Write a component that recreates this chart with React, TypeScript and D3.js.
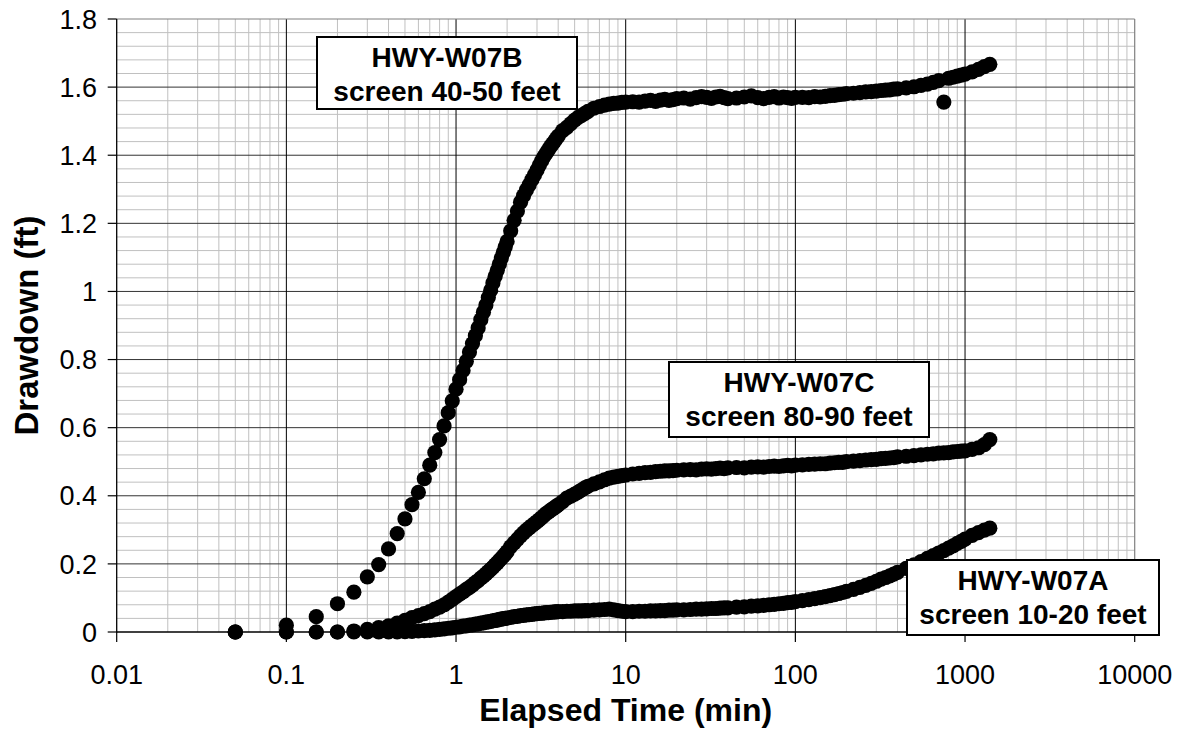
import React from "react";
import * as d3 from "d3";

// Elapsed time (min), shared by all three wells
const TIME_MIN = [
  0.05, 0.1, 0.15, 0.2, 0.25, 0.3, 0.35, 0.4, 0.45, 0.5, 0.55, 0.6, 0.65, 0.7, 0.75, 0.8, 0.85, 0.9, 0.95, 1.0,
  1.05, 1.1, 1.15, 1.2, 1.25, 1.3, 1.35, 1.4, 1.45, 1.5, 1.55, 1.6, 1.65, 1.7, 1.75, 1.8, 1.85, 1.9, 1.95, 2.0,
  2.1, 2.2, 2.3, 2.4, 2.5, 2.6, 2.7, 2.8, 2.9, 3.0, 3.1, 3.2, 3.3, 3.4, 3.5, 3.6, 3.7, 3.8, 3.9, 4.0,
  4.25, 4.5, 4.75, 5, 5.25, 5.5, 5.75, 6,
  6.5, 7, 7.5, 8, 8.5, 9, 9.5, 10,
  11, 12, 13, 14, 15, 16, 17, 18, 19, 20,
  22, 24, 26, 28, 30, 32, 34, 36, 38, 40,
  45, 50, 55, 60, 65, 70, 75, 80, 85, 90, 95, 100,
  110, 120, 130, 140, 150, 160, 170, 180, 190, 200,
  220, 240, 260, 280, 300, 320, 340, 360, 380, 400,
  450, 500, 550, 600, 650, 700, 750, 800, 850, 900, 950, 1000,
  1100, 1200, 1300, 1400,
];

// HWY-W07B, screen 40-50 feet
const DRAWDOWN_B = [
  0, 0.02, 0.045, 0.083, 0.117, 0.162, 0.198, 0.244, 0.289, 0.332, 0.374, 0.41, 0.45, 0.49, 0.527, 0.565, 0.605, 0.644, 0.679, 0.713,
  0.741, 0.768, 0.795, 0.822, 0.847, 0.87, 0.893, 0.917, 0.939, 0.96, 0.982, 1.003, 1.025, 1.044, 1.062, 1.08, 1.098, 1.115, 1.131, 1.147,
  1.178, 1.209, 1.236, 1.262, 1.281, 1.298, 1.313, 1.328, 1.342, 1.356, 1.371, 1.384, 1.396, 1.406, 1.416, 1.425, 1.433, 1.441, 1.449, 1.456,
  1.472, 1.482, 1.493, 1.503, 1.511, 1.517, 1.523, 1.529,
  1.538, 1.543, 1.547, 1.55, 1.552, 1.553, 1.555, 1.556,
  1.557, 1.556, 1.559, 1.561, 1.558, 1.562, 1.564, 1.561, 1.563, 1.566,
  1.568, 1.565, 1.569, 1.572, 1.57, 1.567, 1.571, 1.573, 1.569, 1.566,
  1.568, 1.571, 1.574, 1.569, 1.566, 1.57, 1.572, 1.568, 1.571, 1.569, 1.567, 1.57,
  1.57, 1.569, 1.572, 1.571, 1.573, 1.575, 1.576, 1.578, 1.579, 1.581,
  1.582, 1.584, 1.586, 1.587, 1.588, 1.59, 1.591, 1.592, 1.594, 1.595,
  1.598, 1.601, 1.605, 1.609, 1.614, 1.619, 1.556, 1.626, 1.629, 1.632, 1.635, 1.638,
  1.645, 1.652, 1.66, 1.667,
];

// HWY-W07C, screen 80-90 feet
const DRAWDOWN_C = [
  0, 0, 0, 0, 0.003, 0.008, 0.013, 0.018, 0.026, 0.034, 0.042, 0.048, 0.054, 0.06, 0.067, 0.073, 0.08, 0.088, 0.096, 0.104,
  0.111, 0.118, 0.125, 0.131, 0.138, 0.145, 0.151, 0.158, 0.164, 0.171, 0.177, 0.184, 0.19, 0.197, 0.203, 0.21, 0.216, 0.223, 0.229, 0.236,
  0.251, 0.262, 0.272, 0.282, 0.291, 0.299, 0.306, 0.312, 0.318, 0.324, 0.33, 0.336, 0.342, 0.348, 0.352, 0.357, 0.361, 0.365, 0.369, 0.373,
  0.383, 0.393, 0.399, 0.405, 0.411, 0.417, 0.423, 0.428,
  0.435, 0.441, 0.447, 0.452, 0.455, 0.457, 0.459, 0.461,
  0.464, 0.466, 0.468, 0.469, 0.471, 0.472, 0.473, 0.473, 0.474, 0.475,
  0.476, 0.477, 0.476, 0.478, 0.479, 0.478, 0.48, 0.481, 0.48, 0.482,
  0.483, 0.482, 0.484, 0.485, 0.484, 0.486, 0.487, 0.486, 0.488, 0.489, 0.488, 0.49,
  0.491, 0.492, 0.493, 0.494, 0.494, 0.496, 0.497, 0.498, 0.498, 0.5,
  0.502, 0.503, 0.505, 0.506, 0.507, 0.509, 0.51, 0.511, 0.512, 0.514,
  0.516, 0.518, 0.52, 0.522, 0.523, 0.525, 0.526, 0.527, 0.529, 0.53, 0.531, 0.532,
  0.536, 0.541, 0.55, 0.565,
];

// HWY-W07A, screen 10-20 feet
const DRAWDOWN_A = [
  0, 0, 0, 0, 0, 0, 0, 0, 0, 0.001, 0.002, 0.003, 0.004, 0.005, 0.006, 0.008, 0.009, 0.011, 0.012, 0.014,
  0.015, 0.017, 0.018, 0.02, 0.021, 0.023, 0.024, 0.026, 0.027, 0.029, 0.03, 0.031, 0.033, 0.034, 0.035, 0.037, 0.038, 0.039, 0.04, 0.041,
  0.043, 0.045, 0.046, 0.048, 0.049, 0.05, 0.051, 0.052, 0.053, 0.054, 0.055, 0.055, 0.056, 0.057, 0.057, 0.058, 0.058, 0.059, 0.059, 0.06,
  0.06, 0.061, 0.061, 0.062, 0.062, 0.062, 0.063, 0.063,
  0.064, 0.065, 0.066, 0.067, 0.065, 0.063, 0.061, 0.06,
  0.06, 0.061, 0.061, 0.062, 0.062, 0.063, 0.063, 0.064, 0.064, 0.065,
  0.065, 0.066, 0.067, 0.067, 0.068, 0.069, 0.069, 0.07, 0.071, 0.071,
  0.073, 0.074, 0.076, 0.077, 0.078, 0.08, 0.081, 0.083, 0.084, 0.086, 0.087, 0.089,
  0.092, 0.095, 0.098, 0.101, 0.104, 0.107, 0.11, 0.113, 0.116, 0.119,
  0.125, 0.131, 0.137, 0.143, 0.149, 0.155, 0.16, 0.165, 0.17, 0.175,
  0.187, 0.197, 0.207, 0.216, 0.224, 0.232, 0.239, 0.246, 0.253, 0.26, 0.266, 0.273,
  0.284, 0.292, 0.299, 0.305,
];

const X_TICKS = [0.01, 0.1, 1, 10, 100, 1000, 10000];
const X_TICK_LABELS = ["0.01", "0.1", "1", "10", "100", "1000", "10000"];
const Y_TICKS = [0, 0.2, 0.4, 0.6, 0.8, 1, 1.2, 1.4, 1.6, 1.8];
const Y_TICK_LABELS = ["0", "0.2", "0.4", "0.6", "0.8", "1", "1.2", "1.4", "1.6", "1.8"];

const WELL_NAMES = ["HWY-W07B", "HWY-W07C", "HWY-W07A"];
const WELL_SCREENS = ["screen 40-50 feet", "screen 80-90 feet", "screen 10-20 feet"];

const X_TITLE = "Elapsed Time (min)";
const Y_TITLE = "Drawdown (ft)";

const FONT = "'Liberation Sans', Arial, Helvetica, sans-serif";

export default function App() {
  const W = 1186;
  const H = 730;
  const left = 116.7;
  const right = 1134.7;
  const top = 19;
  const bottom = 632;

  const x = d3.scaleLog().domain([0.01, 10000]).range([left, right]);
  const y = d3.scaleLinear().domain([0, 1.8]).range([bottom, top]);

  const minorX: number[] = [];
  for (let e = -2; e < 4; e++) {
    for (let k = 2; k <= 9; k++) minorX.push(k * Math.pow(10, e));
  }
  const minorY: number[] = [];
  for (let i = 1; i < 45; i++) {
    if (i % 5 !== 0) minorY.push(i * 0.04);
  }

  const series = [DRAWDOWN_C, DRAWDOWN_A, DRAWDOWN_B];

  const boxes = [
    { x0: 317, y0: 37, w: 260, h: 72 },
    { x0: 669, y0: 362, w: 260, h: 75 },
    { x0: 907, y0: 560, w: 252, h: 75 },
  ];

  return (
    <svg
      width={W}
      height={H}
      style={{ position: "absolute", left: 0, top: 0, background: "#fff" }}
      fontFamily={FONT}
    >
      <rect x={0} y={0} width={W} height={H} fill="#fff" />
      {minorX.map((v, i) => (
        <line key={"mx" + i} x1={x(v)} x2={x(v)} y1={top} y2={bottom} stroke="#c0c0c0" strokeWidth={1} />
      ))}
      {minorY.map((v, i) => (
        <line key={"my" + i} x1={left} x2={right} y1={y(v)} y2={y(v)} stroke="#c0c0c0" strokeWidth={1} />
      ))}
      {Y_TICKS.slice(1, -1).map((v, i) => (
        <line key={"My" + i} x1={left} x2={right} y1={y(v)} y2={y(v)} stroke="#333" strokeWidth={1} />
      ))}
      {X_TICKS.slice(1, -1).map((v, i) => (
        <line key={"Mx" + i} x1={x(v)} x2={x(v)} y1={top} y2={bottom} stroke="#000" strokeWidth={1} />
      ))}
      <line x1={left} x2={right} y1={top} y2={top} stroke="#808080" strokeWidth={1.2} />
      <line x1={right} x2={right} y1={top} y2={bottom} stroke="#808080" strokeWidth={1.2} />
      <line x1={left} x2={left} y1={top} y2={bottom + 0.5} stroke="#000" strokeWidth={1.3} />
      <line x1={left} x2={right} y1={bottom} y2={bottom} stroke="#000" strokeWidth={1.3} />

      {Y_TICKS.map((v, i) => (
        <g key={"yt" + i}>
          <line x1={left - 9} x2={left} y1={y(v)} y2={y(v)} stroke="#000" strokeWidth={1.2} />
          <text x={97} y={y(v) + 9.7} textAnchor="end" fontSize={27} fill="#000">
            {Y_TICK_LABELS[i]}
          </text>
        </g>
      ))}
      {X_TICKS.map((v, i) => (
        <g key={"xt" + i}>
          <line x1={x(v)} x2={x(v)} y1={bottom} y2={bottom + 10} stroke="#000" strokeWidth={1.2} />
          <text x={x(v)} y={684} textAnchor="middle" fontSize={27} fill="#000">
            {X_TICK_LABELS[i]}
          </text>
        </g>
      ))}

      {series.map((vals, si) => (
        <g key={"s" + si}>
          {vals.map((v, i) => (
            <circle key={i} cx={x(TIME_MIN[i])} cy={y(v)} r={7.6} fill="#000" />
          ))}
        </g>
      ))}

      {boxes.map((b, i) => (
        <g key={"b" + i}>
          <rect x={b.x0} y={b.y0} width={b.w} height={b.h} fill="#fff" stroke="#000" strokeWidth={2} />
          <text x={b.x0 + b.w / 2} y={b.y0 + 29.5} textAnchor="middle" fontSize={28} fontWeight="bold" fill="#000">
            {WELL_NAMES[i]}
          </text>
          <text x={b.x0 + b.w / 2} y={b.y0 + 63.5} textAnchor="middle" fontSize={28} fontWeight="bold" fill="#000">
            {WELL_SCREENS[i]}
          </text>
        </g>
      ))}

      <text x={(left + right) / 2} y={721} textAnchor="middle" fontSize={32} fontWeight="bold" fill="#000">
        {X_TITLE}
      </text>
      <text
        transform={`translate(38, ${(top + bottom) / 2}) rotate(-90)`}
        textAnchor="middle"
        fontSize={33}
        fontWeight="bold"
        fill="#000"
      >
        {Y_TITLE}
      </text>
    </svg>
  );
}
